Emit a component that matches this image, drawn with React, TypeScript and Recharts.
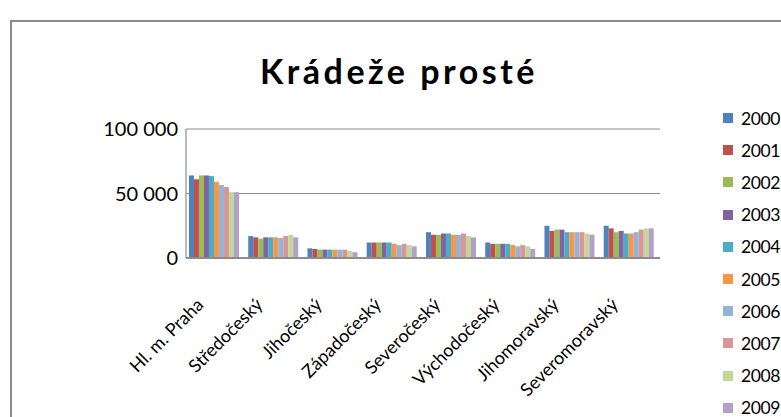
import { BarChart, Bar, XAxis, YAxis, CartesianGrid } from "recharts";

const regions = [
  "Hl. m. Praha",
  "Středočeský",
  "Jihočeský",
  "Západočeský",
  "Severočeský",
  "Východočeský",
  "Jihomoravský",
  "Severomoravský",
];

const years = ["2000", "2001", "2002", "2003", "2004", "2005", "2006", "2007", "2008", "2009"];

const y2000 = [64000, 17000, 7500, 12000, 20000, 12000, 25000, 25000];
const y2001 = [61000, 16000, 7000, 12000, 18000, 11000, 21000, 23000];
const y2002 = [64000, 15000, 6500, 12000, 18000, 11000, 22000, 20000];
const y2003 = [64000, 16000, 6500, 12000, 19000, 11000, 22000, 21000];
const y2004 = [63500, 16000, 6500, 12000, 19000, 11000, 20000, 19000];
const y2005 = [59000, 16000, 6500, 11000, 18000, 10000, 20000, 19000];
const y2006 = [56500, 15500, 6500, 10000, 18000, 9000, 20000, 20000];
const y2007 = [55000, 17000, 6500, 11000, 19000, 10000, 20000, 22000];
const y2008 = [51000, 18000, 5500, 10000, 17000, 9000, 19000, 23000];
const y2009 = [51000, 16000, 4500, 9000, 16000, 7000, 18000, 23000];

const series = [y2000, y2001, y2002, y2003, y2004, y2005, y2006, y2007, y2008, y2009];

const colors = [
  "#4F81BD",
  "#C0504D",
  "#9BBB59",
  "#8064A2",
  "#4BACC6",
  "#F79646",
  "#95B3D7",
  "#DA9694",
  "#C3D69B",
  "#B1A0C7",
];

const yTicks = [0, 50000, 100000];

const data = regions.map((name, i) => {
  const row: Record<string, string | number> = { name };
  years.forEach((yr, j) => {
    row[yr] = series[j][i];
  });
  return row;
});

const font = "Lato, 'Open Sans', sans-serif";

const fmt = (v: number) => String(v).replace(/\B(?=(\d{3})+(?!\d))/g, " ");

function RegionTick(props: any) {
  const { x, y, payload } = props;
  const tx = x - 11;
  const ty = y + 40;
  return (
    <text
      x={tx}
      y={ty}
      transform={`rotate(-45, ${tx}, ${ty})`}
      textAnchor="end"
      fontSize={18}
      fill="#000"
      fontFamily={font}
    >
      {payload.value}
    </text>
  );
}

export default function App() {
  return (
    <div
      style={{
        position: "absolute",
        left: 0,
        top: 0,
        width: 781,
        height: 417,
        overflow: "hidden",
        background: "#fff",
      }}
    >
      <div
        style={{
          position: "absolute",
          left: 10,
          top: 20,
          width: 800,
          height: 420,
          border: "2px solid #8a8a8a",
        }}
      />
      <div
        style={{
          position: "absolute",
          left: 0,
          top: 50,
          width: 798,
          textAlign: "center",
          fontFamily: font,
          fontWeight: 700,
          fontSize: 34,
          letterSpacing: 3.5,
          color: "#000",
        }}
      >
        Krádeže prosté
      </div>
      <div
        style={{
          position: "absolute",
          left: 723,
          top: 102,
          fontFamily: font,
          fontSize: 17.5,
          letterSpacing: -0.4,
          color: "#000",
        }}
      >
        {years.map((yr, i) => (
          <div key={yr} style={{ display: "flex", alignItems: "center", height: 32.2 }}>
            <span style={{ width: 10, height: 10, background: colors[i], marginRight: 8 }} />
            <span>{yr}</span>
          </div>
        ))}
      </div>
      <BarChart
        width={781}
        height={417}
        data={data}
        margin={{ top: 129, right: 121, bottom: 9, left: 0 }}
        barCategoryGap="5%"
        barGap={0}
        style={{ position: "absolute", left: 0, top: 0 }}
      >
        <CartesianGrid vertical={false} stroke="#8c8c8c" strokeWidth={1.2} />
        <XAxis
          dataKey="name"
          interval={0}
          height={150}
          tick={<RegionTick />}
          tickLine={false}
          axisLine={{ stroke: "#8c8c8c", strokeWidth: 2 }}
        />
        <YAxis
          width={186}
          domain={[0, 100000]}
          ticks={yTicks}
          tickFormatter={fmt}
          tick={{ fill: "#000", fontSize: 20, fontFamily: font }}
          tickLine={false}
          axisLine={{ stroke: "#8c8c8c", strokeWidth: 1.2 }}
        />
        {years.map((yr, i) => (
          <Bar key={yr} dataKey={yr} fill={colors[i]} isAnimationActive={false} />
        ))}
      </BarChart>
    </div>
  );
}
